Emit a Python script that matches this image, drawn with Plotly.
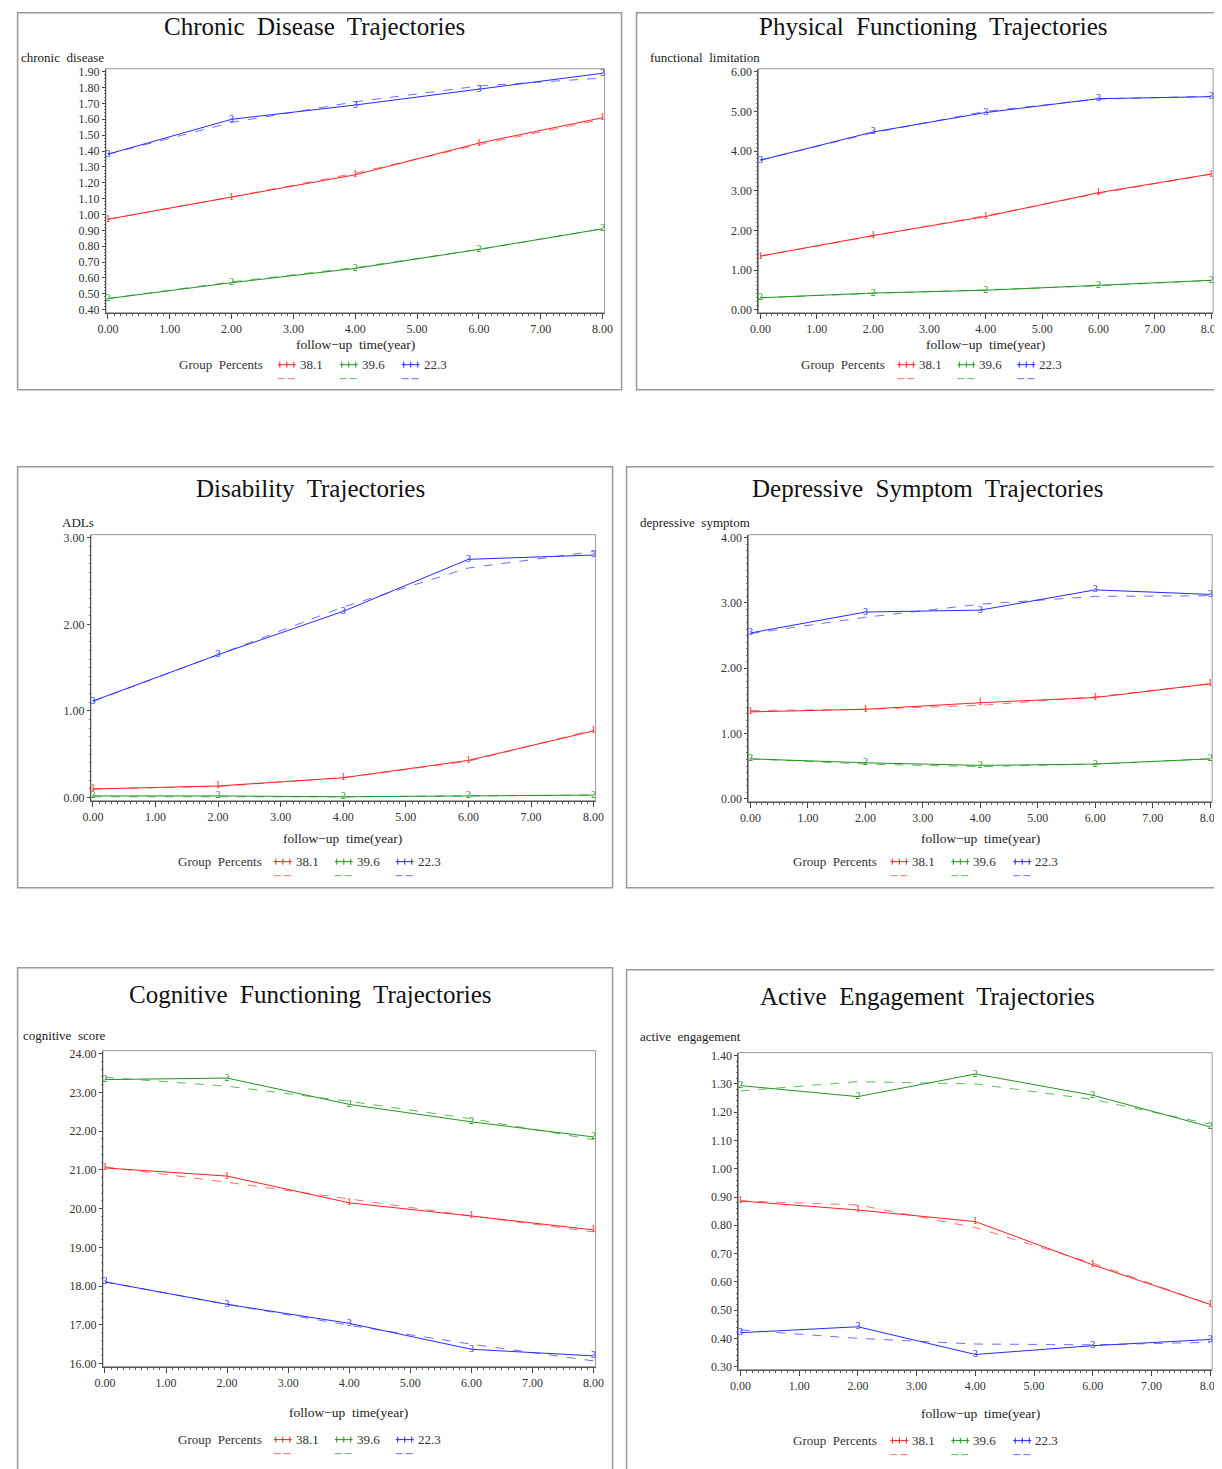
import plotly.graph_objects as go

W, H = 1222, 1469
FW, FH = 1224, 1466
# observed mapping from figure pixels to photographed pixels: page = OFF + SCALE * fig
OFF_X, SCALE_X = 16.0, 0.986
OFF_Y, SCALE_Y = 12.3, 0.9946
FONT = "Liberation Serif"

years = [0, 2, 4, 6, 8]
group_labels = ["38.1", "39.6", "22.3"]
group_symbols = ["1", "2", "3"]
line_colors = ["rgb(255,30,30)", "rgb(30,150,30)", "rgb(40,40,255)"]
fit_colors = ["rgba(255,60,60,0.75)", "rgba(40,160,40,0.75)", "rgba(60,60,255,0.75)"]

# ---- Chronic disease ----
chronic_obs = [[0.97, 1.11, 1.25, 1.45, 1.61],
               [0.47, 0.57, 0.66, 0.78, 0.91],
               [1.38, 1.60, 1.69, 1.79, 1.89]]
chronic_fit = [[0.97, 1.11, 1.26, 1.44, 1.60],
               [0.47, 0.575, 0.665, 0.78, 0.91],
               [1.38, 1.58, 1.71, 1.81, 1.86]]
# ---- Physical functioning ----
physical_obs = [[1.35, 1.87, 2.35, 2.95, 3.42],
                [0.30, 0.42, 0.49, 0.61, 0.74],
                [3.77, 4.48, 4.97, 5.32, 5.37]]
physical_fit = [[1.35, 1.86, 2.37, 2.93, 3.42],
                [0.30, 0.41, 0.50, 0.60, 0.74],
                [3.77, 4.46, 5.00, 5.31, 5.38]]
# ---- Disability ----
disability_obs = [[0.10, 0.135, 0.23, 0.43, 0.77],
                  [0.02, 0.02, 0.01, 0.02, 0.03],
                  [1.115, 1.65, 2.15, 2.75, 2.80]]
disability_fit = [[0.10, 0.13, 0.23, 0.42, 0.78],
                  [0.01, 0.01, 0.01, 0.02, 0.03],
                  [1.11, 1.65, 2.20, 2.65, 2.84]]
# ---- Depressive symptom ----
depressive_obs = [[1.33, 1.37, 1.47, 1.55, 1.76],
                  [0.61, 0.55, 0.51, 0.53, 0.61],
                  [2.54, 2.86, 2.89, 3.20, 3.13]]
depressive_fit = [[1.35, 1.37, 1.43, 1.56, 1.76],
                  [0.61, 0.53, 0.49, 0.53, 0.61],
                  [2.53, 2.78, 2.98, 3.10, 3.11]]
# ---- Cognitive functioning ----
cognitive_obs = [[21.05, 20.84, 20.15, 19.81, 19.45],
                 [23.33, 23.37, 22.69, 22.24, 21.85],
                 [18.11, 17.53, 17.04, 16.37, 16.20]]
cognitive_fit = [[21.08, 20.68, 20.25, 19.81, 19.40],
                 [23.39, 23.16, 22.77, 22.32, 21.78],
                 [18.11, 17.53, 16.99, 16.50, 16.07]]
# ---- Active engagement ----
active_obs = [[0.886, 0.854, 0.813, 0.66, 0.52],
              [1.294, 1.255, 1.335, 1.26, 1.148],
              [0.42, 0.441, 0.343, 0.374, 0.396]]
active_fit = [[0.886, 0.872, 0.792, 0.666, 0.52],
              [1.275, 1.308, 1.30, 1.245, 1.158],
              [0.43, 0.40, 0.38, 0.377, 0.386]]

titles = ["Chronic  Disease  Trajectories", "Physical  Functioning  Trajectories",
          "Disability  Trajectories", "Depressive  Symptom  Trajectories",
          "Cognitive  Functioning  Trajectories", "Active  Engagement  Trajectories"]
ylabels = ["chronic  disease", "functional  limitation", "ADLs",
           "depressive  symptom", "cognitive  score", "active  engagement"]
xlabel = "follow\u2212up  time(year)"
legend_title = "Group  Percents"

# y axis settings: (min, max, step, minor)
yaxes_vals = [(0.40, 1.90, 0.10, 0.02), (0.0, 6.0, 1.0, 0.1), (0.0, 3.0, 1.0, 0.1),
              (0.0, 4.0, 1.0, 0.1), (16.0, 24.0, 1.0, 0.2), (0.30, 1.40, 0.10, 0.02)]
obs_sets = [chronic_obs, physical_obs, disability_obs, depressive_obs, cognitive_obs, active_obs]
fit_sets = [chronic_fit, physical_fit, disability_fit, depressive_fit, cognitive_fit, active_fit]

# ---- Layout geometry (target picture pixels) ----
panels = [
    dict(box=(8, 8, 621, 390), x0=107, x8=602, yt=72, yb=310, title=(314, 27),
         ylab=(18, 58), xt=(355, 345), leg_y=365, gp=176, leg_x=[277, 339, 401]),
    dict(box=(636, 8, 1240, 390), x0=760, x8=1211, yt=72, yb=310, title=(933, 27),
         ylab=(647, 58), xt=(985, 345), leg_y=365, gp=799, leg_x=[897, 957, 1017]),
    dict(box=(9, 467, 612, 888), x0=92, x8=593, yt=538, yb=798, title=(310, 489),
         ylab=(59, 523), xt=(342, 839), leg_y=862, gp=175, leg_x=[273, 334, 395]),
    dict(box=(626, 467, 1240, 888), x0=750, x8=1210, yt=538, yb=799, title=(927, 489),
         ylab=(637, 523), xt=(980, 839), leg_y=862, gp=791, leg_x=[890, 951, 1013]),
    dict(box=(9, 968, 612, 1490), x0=104, x8=593, yt=1054, yb=1364, title=(310, 995),
         ylab=(20, 1036), xt=(348, 1413), leg_y=1440, gp=175, leg_x=[273, 334, 395]),
    dict(box=(626, 970, 1240, 1490), x0=740, x8=1210, yt=1056, yb=1367, title=(927, 997),
         ylab=(637, 1037), xt=(980, 1414), leg_y=1441, gp=791, leg_x=[890, 951, 1013]),
]


def fx(x):
    v = ((x - OFF_X) / SCALE_X) / FW
    return min(max(v, 0.0005), 1.02)


def fy(y):
    v = 1 - ((y - OFF_Y) / SCALE_Y) / FH
    return min(max(v, -0.02), 0.9995)


def fpx(dx):
    return dx / SCALE_X


fig = go.Figure()
shapes = []
annotations = []
layout_axes = {}

for i, p in enumerate(panels):
    n = i + 1
    xa = "x" if n == 1 else f"x{n}"
    ya = "y" if n == 1 else f"y{n}"
    ymin, ymax, ystep, yminor = yaxes_vals[i]
    left, right = p["x0"] - 2, p["x8"] + 2
    top, bottom = p["yt"] - 3, p["yb"] + 3
    ux = 8.0 / (p["x8"] - p["x0"])
    uy = (ymax - ymin) / (p["yb"] - p["yt"])
    xr = [-2 * ux, 8 + 2 * ux]
    yr = [ymin - 3 * uy, ymax + 3 * uy]

    xticks = [float(k) for k in range(0, 9)]
    nt = int(round((ymax - ymin) / ystep))
    yticks = [ymin + k * ystep for k in range(nt + 1)]

    tickfont = dict(family=FONT, size=12, color="#333")
    layout_axes["xaxis" if n == 1 else f"xaxis{n}"] = dict(
        domain=[fx(left), fx(right)], range=xr, anchor=ya,
        tickvals=xticks, ticktext=[f"{t:.2f}" for t in xticks],
        ticks="outside", ticklen=5, tickcolor="#444", tickfont=tickfont,
        minor=dict(ticks="outside", ticklen=2, dtick=0.1, tick0=0, tickcolor="#666"),
        showgrid=False, zeroline=False, showline=True, linecolor="#555", linewidth=1,
        fixedrange=True,
    )
    layout_axes["yaxis" if n == 1 else f"yaxis{n}"] = dict(
        domain=[fy(bottom), fy(top)], range=yr, anchor=xa,
        tickvals=yticks, ticktext=[f"{t:.2f}" for t in yticks],
        ticks="outside", ticklen=3, tickcolor="#444", tickfont=tickfont,
        minor=dict(ticks="outside", ticklen=1, dtick=yminor, tick0=ymin, tickcolor="#777"),
        showgrid=False, zeroline=False, showline=True, linecolor="#555", linewidth=1,
        fixedrange=True,
    )
    shapes.append(dict(type="rect", xref=f"{xa} domain", yref=f"{ya} domain",
                       x0=0, x1=1, y0=0, y1=1, line=dict(color="#999", width=1),
                       layer="below"))
    bx0, by0, bx1, by1 = p["box"]
    shapes.append(dict(type="rect", xref="paper", yref="paper",
                       x0=fx(bx0), x1=fx(bx1), y0=fy(by1), y1=fy(by0),
                       line=dict(color="#9a9a9a", width=1.5)))

    obs = obs_sets[i]
    fit = fit_sets[i]
    for g in range(3):
        fig.add_trace(go.Scatter(
            x=years, y=fit[g], mode="lines", xaxis=xa, yaxis=ya,
            line=dict(color=fit_colors[g], width=1, dash="dash"),
            showlegend=False, hoverinfo="skip"))
        fig.add_trace(go.Scatter(
            x=years, y=obs[g], mode="lines+text", xaxis=xa, yaxis=ya,
            text=[group_symbols[g]] * len(years), textposition="middle center",
            textfont=dict(family=FONT, size=10, color=line_colors[g]),
            line=dict(color=line_colors[g], width=1),
            showlegend=False, cliponaxis=False))

    tx, ty = p["title"]
    annotations.append(dict(x=fx(tx), y=fy(ty), xref="paper", yref="paper",
                            text=titles[i], showarrow=False, xanchor="center", yanchor="middle",
                            font=dict(family=FONT, size=25, color="#111")))
    lx, ly = p["ylab"]
    annotations.append(dict(x=fx(lx), y=fy(ly), xref="paper", yref="paper",
                            text=ylabels[i], showarrow=False, xanchor="left", yanchor="middle",
                            font=dict(family=FONT, size=13, color="#222")))
    xx, xy = p["xt"]
    annotations.append(dict(x=fx(xx), y=fy(xy), xref="paper", yref="paper",
                            text=xlabel, showarrow=False, xanchor="center", yanchor="middle",
                            font=dict(family=FONT, size=13.5, color="#222")))
    ly2 = p["leg_y"]
    annotations.append(dict(x=fx(p["gp"]), y=fy(ly2), xref="paper", yref="paper",
                            text=legend_title, showarrow=False, xanchor="left", yanchor="middle",
                            font=dict(family=FONT, size=13, color="#333")))
    for g in range(3):
        sx = p["leg_x"][g]
        shapes.append(dict(type="line", xref="paper", yref="paper",
                           x0=fx(sx), x1=fx(sx + 18), y0=fy(ly2), y1=fy(ly2),
                           line=dict(color=line_colors[g], width=1)))
        for k in range(3):
            cx = sx + 2 + k * 7
            shapes.append(dict(type="line", xref="paper", yref="paper",
                               x0=fx(cx), x1=fx(cx), y0=fy(ly2 - 3), y1=fy(ly2 + 3),
                               line=dict(color=line_colors[g], width=1)))
        for k in range(2):
            dx = sx + k * 10
            shapes.append(dict(type="line", xref="paper", yref="paper",
                               x0=fx(dx), x1=fx(dx + 7), y0=fy(ly2 + 14), y1=fy(ly2 + 14),
                               line=dict(color=fit_colors[g], width=1)))
        annotations.append(dict(x=fx(sx + 20), y=fy(ly2), xref="paper", yref="paper",
                                text=group_labels[g], showarrow=False, xanchor="left",
                                yanchor="middle",
                                font=dict(family=FONT, size=13, color="#333")))

fig.update_layout(
    width=FW, height=FH, margin=dict(l=0, r=0, t=0, b=0),
    paper_bgcolor="white", plot_bgcolor="white",
    showlegend=False, shapes=shapes, annotations=annotations,
    **layout_axes,
)

fig.write_html("out.html")
